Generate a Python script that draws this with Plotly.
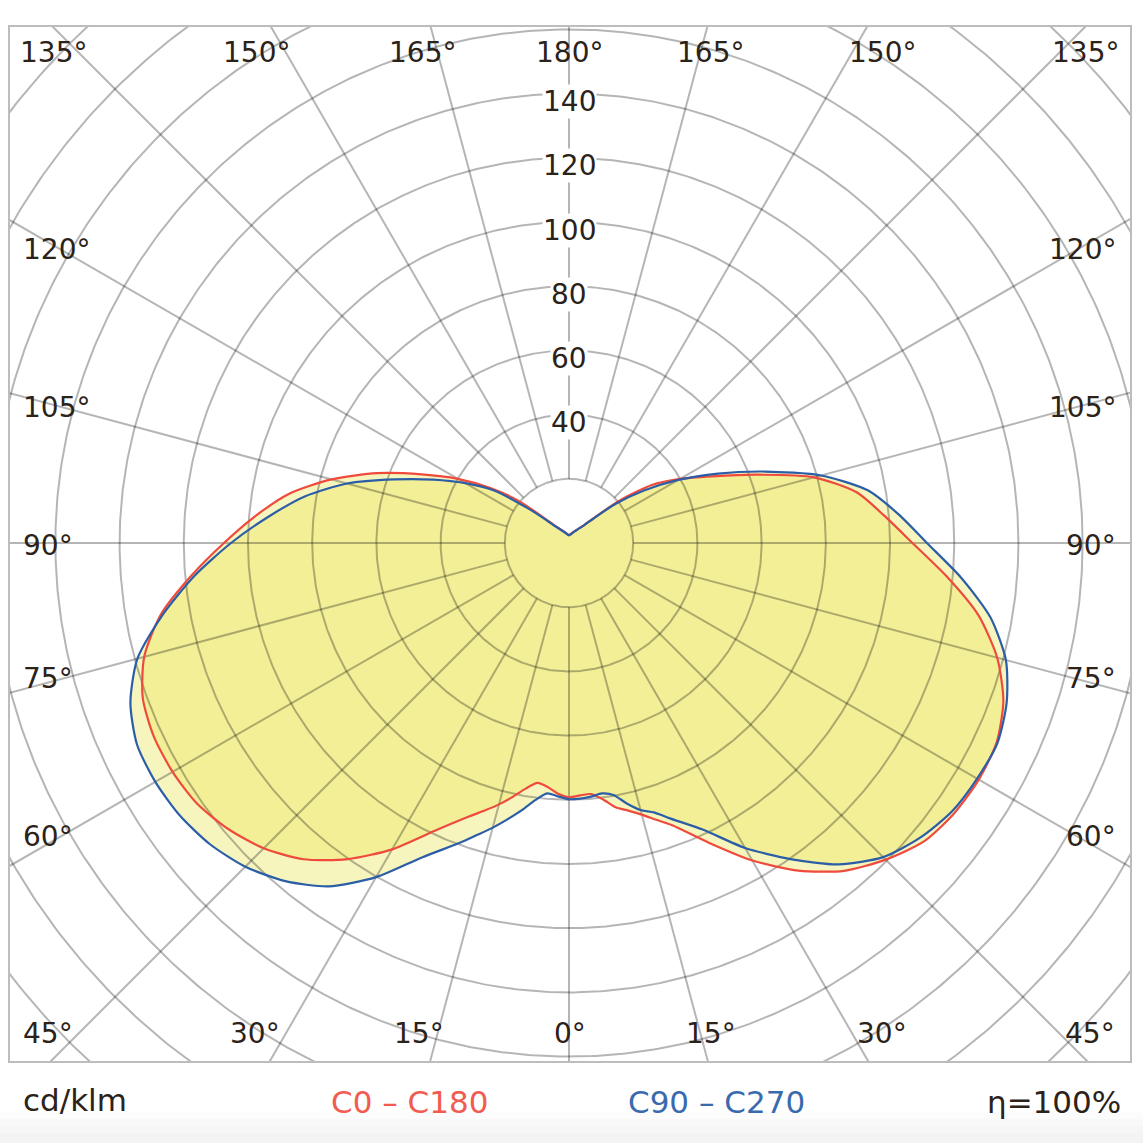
import numpy as np
import plotly.graph_objects as go

# ---------------- data (cd/klm) ----------------
gamma = [0, 2.5, 5, 7.5, 10, 12.5, 15, 17.5, 20, 25, 30, 35, 40, 45, 50, 55, 60, 65,
         70, 75, 80, 85, 90, 95, 100, 105, 110, 115, 120, 125, 130, 135, 140, 150,
         160, 170, 180]
# C0 - C180 plane (red): C0 drawn on the right, C180 on the left
c0 = [79.2, 78.7, 78.5, 80.5, 83.6, 85.4, 87.6, 90.4, 93.5, 103.0, 114.2, 124.6,
      133.3, 139.5, 144.5, 146.6, 147.4, 147.0, 144.0, 138.1, 129.5, 118.0, 107.0,
      98.5, 91.0, 79.0, 62.2, 49.1, 39.9, 31.5, 20.5, 11.2, 7.3, 4.7, 3.5, 2.8, 2.5]
c180 = [79.2, 78.2, 76.3, 75.4, 77.7, 81.0, 84.3, 87.4, 90.6, 98.9, 110.2, 120.2,
        128.6, 134.5, 138.6, 141.5, 142.6, 142.7, 141.3, 137.0, 129.2, 118.2, 107.5,
        97.9, 88.5, 76.6, 63.6, 50.6, 40.0, 29.9, 20.3, 11.2, 7.3, 4.7, 3.5, 2.8, 2.5]
# C90 - C270 plane (blue): C90 on the right, C270 on the left
c90 = [79.8, 79.7, 79.3, 78.7, 79.7, 83.1, 86.1, 88.0, 91.2, 98.5, 109.7, 120.2,
       130.7, 138.4, 142.8, 145.7, 146.8, 147.3, 145.1, 140.9, 133.3, 122.5, 111.5,
       103.0, 94.5, 81.3, 65.1, 51.2, 39.3, 28.5, 19.0, 10.8, 7.1, 4.6, 3.4, 2.7, 2.4]
c270 = [79.8, 79.0, 78.3, 80.8, 84.5, 88.1, 91.8, 95.4, 99.4, 108.0, 120.2, 130.6,
        137.5, 142.6, 146.0, 148.0, 148.8, 148.5, 145.4, 139.2, 128.5, 117.1, 105.3,
        94.0, 83.6, 71.6, 57.9, 46.7, 37.3, 28.5, 17.0, 10.3, 7.0, 4.5, 3.4, 2.7, 2.4]

radial_ticks = [40, 60, 80, 100, 120, 140]
unit_label = "cd/klm"
legend_red = "C0 – C180"
legend_blue = "C90 – C270"
efficiency = "η=100%"

# ---------------- styling ----------------
FONT = "DejaVu Sans"
TXT = "#2b2219"
RED = "#ef4a3c"
BLUE = "#2b5ea7"
FILL = "rgba(236,229,92,0.40)"
GRID = "rgba(0,0,0,0.29)"

W = H = 1143
L, R, T, B = 10, 13, 27, 82
CX, CY = 569, 543          # pixel position of the pole
S = 3.21                   # pixels per cd/klm


def half_to_xy(g, r, side):
    g = np.radians(np.asarray(g, float))
    r = np.asarray(r, float)
    return side * r * np.sin(g), -r * np.cos(g)


def closed_curve(right_vals, left_vals):
    xl, yl = half_to_xy(gamma[::-1], left_vals[::-1], -1)
    xr, yr = half_to_xy(gamma[1:], right_vals[1:], 1)
    return np.concatenate([xl, xr]), np.concatenate([yl, yr])


xr_, yr_ = closed_curve(c0, c180)
xb_, yb_ = closed_curve(c90, c270)

fig = go.Figure()
SPL = dict(shape="spline", smoothing=0.7)

# fills (two translucent layers -> darker where they overlap)
fig.add_trace(go.Scatter(x=xb_, y=yb_, mode="lines", fill="toself", fillcolor=FILL,
                         line=dict(width=0, **SPL), hoverinfo="skip", showlegend=False))
fig.add_trace(go.Scatter(x=xr_, y=yr_, mode="lines", fill="toself", fillcolor=FILL,
                         line=dict(width=0, **SPL), hoverinfo="skip", showlegend=False))

# grid: circles every 20 and spokes every 15 degrees
gx, gy = [], []
t = np.linspace(0, 2 * np.pi, 721)
for rr in range(20, 261, 20):
    gx += list(rr * np.cos(t)) + [None]
    gy += list(rr * np.sin(t)) + [None]
for a in range(0, 360, 15):
    ar = np.radians(a)
    gx += [20 * np.sin(ar), 300 * np.sin(ar), None]
    gy += [-20 * np.cos(ar), -300 * np.cos(ar), None]
fig.add_trace(go.Scatter(x=gx, y=gy, mode="lines", line=dict(color=GRID, width=2),
                         hoverinfo="skip", showlegend=False))

# curves
fig.add_trace(go.Scatter(x=xr_, y=yr_, mode="lines", line=dict(color=RED, width=2.2, **SPL),
                         name=legend_red, showlegend=False))
fig.add_trace(go.Scatter(x=xb_, y=yb_, mode="lines", line=dict(color=BLUE, width=2.2, **SPL),
                         name=legend_blue, showlegend=False))

pw, ph = W - L - R, H - T - B


def px(x):
    return (x - L) / pw


def py(y):
    return (H - B - y) / ph


ann = []
# radial value labels on the upper vertical
for v in radial_ticks:
    ann.append(dict(x=0, y=v, xref="x", yref="y", text=str(v), showarrow=False,
                    yshift=-8, bgcolor="white", borderpad=0,
                    font=dict(family=FONT, size=28, color=TXT)))

# angle labels around the frame (text, px-x, px-y, anchor)
angle_labels = [
    ("135°", 53, 52, "center"), ("150°", 256, 52, "center"), ("165°", 422, 52, "center"),
    ("180°", 569, 52, "center"), ("165°", 710, 52, "center"), ("150°", 882, 52, "center"),
    ("135°", 1085, 52, "center"),
    ("120°", 21, 250, "left"), ("105°", 21, 407, "left"), ("90°", 21, 545, "left"),
    ("75°", 21, 678, "left"), ("60°", 21, 836, "left"),
    ("120°", 1118, 250, "right"), ("105°", 1118, 407, "right"), ("90°", 1118, 545, "right"),
    ("75°", 1118, 678, "right"), ("60°", 1118, 836, "right"),
    ("45°", 48, 1033, "center"), ("30°", 255, 1033, "center"), ("15°", 419, 1033, "center"),
    ("0°", 570, 1033, "center"), ("15°", 711, 1033, "center"), ("30°", 882, 1033, "center"),
    ("45°", 1090, 1033, "center"),
]
for txt, x, y, anc in angle_labels:
    ann.append(dict(x=px(x), y=py(y), xref="paper", yref="paper", text=txt,
                    showarrow=False, xanchor=anc, yanchor="middle",
                    font=dict(family=FONT, size=28, color=TXT)))

# bottom row
BF = 31
ann.append(dict(x=px(21), y=py(1100), xref="paper", yref="paper", text=unit_label,
                showarrow=False, xanchor="left", yanchor="middle",
                font=dict(family=FONT, size=BF, color=TXT)))
ann.append(dict(x=px(409), y=py(1102), xref="paper", yref="paper", text=legend_red,
                showarrow=False, xanchor="center", yanchor="middle",
                font=dict(family=FONT, size=BF, color="#f25c50")))
ann.append(dict(x=px(716), y=py(1102), xref="paper", yref="paper", text=legend_blue,
                showarrow=False, xanchor="center", yanchor="middle",
                font=dict(family=FONT, size=BF, color="#3a6aae")))
ann.append(dict(x=px(1123), y=py(1102), xref="paper", yref="paper", text=efficiency,
                showarrow=False, xanchor="right", yanchor="middle",
                font=dict(family=FONT, size=BF, color=TXT)))

shapes = []
for i, a in enumerate([0.012, 0.012, 0.012, 0.012]):
    shapes.append(dict(type="rect", xref="paper", yref="paper", layer="below",
                       x0=-0.02, x1=1.02, y0=py(1143), y1=py(1112 + 7 * i),
                       fillcolor=f"rgba(0,0,0,{a})", line=dict(width=0)))

fig.update_layout(
    width=W, height=H,
    margin=dict(l=L, r=R, t=T, b=B, autoexpand=False),
    paper_bgcolor="white", plot_bgcolor="white",
    xaxis=dict(range=[(L - CX) / S, (W - R - CX) / S], showgrid=False, zeroline=False,
               showticklabels=False, ticks="", showline=True, mirror=True,
               linecolor="#bdbdbd", linewidth=2, fixedrange=True),
    yaxis=dict(range=[(CY - (H - B)) / S, (CY - T) / S], showgrid=False, zeroline=False,
               showticklabels=False, ticks="", showline=True, mirror=True,
               linecolor="#bdbdbd", linewidth=2, fixedrange=True),
    annotations=ann,
    shapes=shapes,
    showlegend=False,
)

fig.write_html("out.html")
